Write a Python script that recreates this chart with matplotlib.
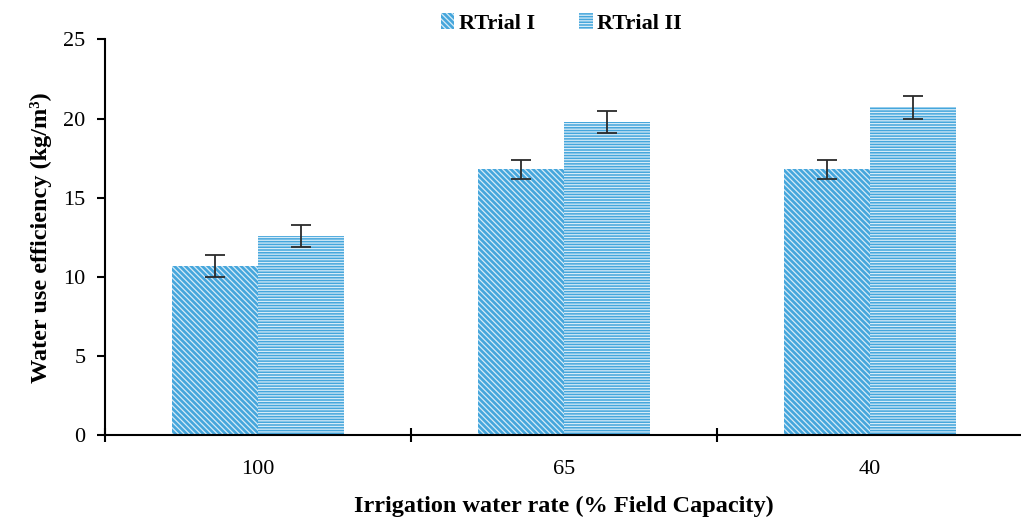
import matplotlib
matplotlib.use('Agg')
import matplotlib.pyplot as plt
import numpy as np

categories = ['100', '65', '40']
trial_1 = [10.7, 16.8, 16.8]
trial_2 = [12.6, 19.8, 20.7]
err_1 = [0.7, 0.6, 0.6]
err_2 = [0.7, 0.7, 0.7]

plt.rcParams['font.family'] = ['Liberation Serif', 'DejaVu Serif']
plt.rcParams['hatch.linewidth'] = 0.9

fig = plt.figure(figsize=(10.21, 5.26), dpi=100)
ax = fig.add_axes([0.103, 0.173, 0.899, 0.752])

blue = '#45a6dc'
x = np.arange(len(categories))
w = 0.28

b1 = ax.bar(x - w / 2, trial_1, w, color=blue, edgecolor='#d6ebf7', hatch='\\\\\\\\\\\\', linewidth=0, label='RTrial I')
b2 = ax.bar(x + w / 2, trial_2, w, color=blue, edgecolor='#d6ebf7', hatch='------', linewidth=0, label='RTrial II')
ax.errorbar(x - w / 2, trial_1, yerr=err_1, fmt='none', ecolor='#2b2b2b', elinewidth=1.3, capsize=7, capthick=1.3)
ax.errorbar(x + w / 2, trial_2, yerr=err_2, fmt='none', ecolor='#2b2b2b', elinewidth=1.3, capsize=7, capthick=1.3)

ax.set_xlim(-0.5, 2.5)
ax.set_ylim(0, 25)
ax.set_yticks([0, 5, 10, 15, 20, 25])
ax.tick_params(axis='y', labelsize=16, direction='out', length=6, width=1.5, pad=8)

ax.set_xticks([-0.5, 0.5, 1.5, 2.5])
ax.set_xticklabels([])
ax.tick_params(axis='x', which='major', direction='inout', length=10, width=1.5)
ax.set_xticks(x, minor=True)
ax.set_xticklabels(categories, minor=True, fontsize=16)
ax.tick_params(axis='x', which='minor', length=0, pad=18)

for s in ['top', 'right']:
    ax.spines[s].set_visible(False)
for s in ['left', 'bottom']:
    ax.spines[s].set_linewidth(1.5)

ax.set_ylabel('Water use efficiency (kg/m³)', fontsize=17.5, fontweight='bold', labelpad=8)
ax.set_xlabel('Irrigation water rate (% Field Capacity)', fontsize=17.5, fontweight='bold', labelpad=12)

fig.legend(handles=[b1, b2], loc='center', bbox_to_anchor=(0.55, 0.955), ncol=2, frameon=False,
           prop={'size': 16, 'weight': 'bold'}, handlelength=0.6, handleheight=0.7, handletextpad=0.2,
           columnspacing=2.0)

fig.savefig('out.png', dpi=100, facecolor='white')
